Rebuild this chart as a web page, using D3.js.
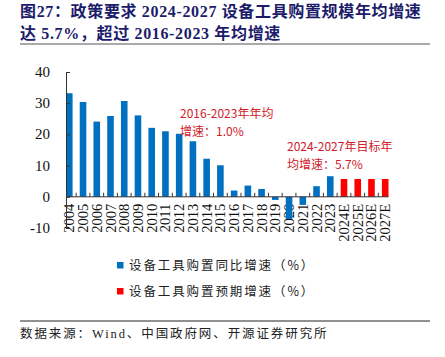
<!DOCTYPE html>
<html><head><meta charset="utf-8">
<script src="https://cdn.jsdelivr.net/npm/d3@7"></script>
<style>body{margin:0;background:#fff}svg{display:block}</style>
</head><body><svg id="c" width="445" height="357"></svg>
<script>
const categories = ["2004","2005","2006","2007","2008","2009","2010","2011","2012","2013","2014","2015","2016","2017","2018","2019","2020","2021","2022","2023","2024E","2025E","2026E","2027E"];
const actualGrowth = [33.2,30.4,24.1,25.9,30.7,26.1,22.1,21.0,20.2,17.8,12.2,10.1,2.0,3.6,2.5,-1.0,-7.1,-2.6,3.4,6.6,null,null,null,null];
const expectedGrowth = [null,null,null,null,null,null,null,null,null,null,null,null,null,null,null,null,null,null,null,null,5.7,5.7,5.7,5.7];
const yTicks = [-10,0,10,20,30,40];
const titleLines = ["图27：政策要求 2024-2027 设备工具购置规模年均增速","达 5.7%，超过 2016-2023 年均增速"];
const legendLabels = ["设备工具购置同比增速（%）","设备工具购置预期增速（%）"];
const note1 = ["2016-2023年年均","增速：1.0%"];
const note2 = ["2024-2027年目标年","均增速：5.7%"];
const source = "数据来源：Wind、中国政府网、开源证券研究所";

const svg = d3.select("#c");
const blue = "#0070c0", red = "#ff0000", noteRed = "#d0202a";
const x = d3.scaleBand().domain(categories).range([66, 388.5]).paddingInner(0.52).paddingOuter(0);
const y = d3.scaleLinear().domain([-10, 40]).range([228, 72]);

// title
svg.selectAll("text.title").data(titleLines).join("text")
  .attr("x", 20).attr("y", (d,i)=>17+i*22)
  .attr("fill", "#1c1c6b").attr("font-weight", "bold")
  .attr("font-family", "'Liberation Serif','Noto Sans CJK SC',serif")
  .attr("font-size", 16).attr("letter-spacing", 0.65)
  .text(d=>d);
svg.append("line").attr("x1",20).attr("x2",430).attr("y1",44).attr("y2",44).attr("stroke","#8c8c8c").attr("stroke-width",1.5);

// x labels (drawn under bars)
svg.selectAll("text.xl").data(categories).join("text")
  .attr("transform", d=>`translate(${x(d)+x.bandwidth()/2+5},${y(0)+7}) rotate(-90)`)
  .attr("text-anchor","end")
  .attr("font-family","'Liberation Serif',serif").attr("font-size",14.5).attr("fill","#111")
  .text(d=>d);

// bars
const g = svg.append("g");
g.selectAll("rect.a").data(categories.map((c,i)=>({c, v: actualGrowth[i]})).filter(d=>d.v!=null)).join("rect")
  .attr("x", d=>x(d.c)).attr("width", x.bandwidth())
  .attr("y", d=>y(Math.max(0,d.v))).attr("height", d=>Math.abs(y(d.v)-y(0)))
  .attr("fill", blue);
g.selectAll("rect.b").data(categories.map((c,i)=>({c, v: expectedGrowth[i]})).filter(d=>d.v!=null)).join("rect")
  .attr("x", d=>x(d.c)).attr("width", x.bandwidth())
  .attr("y", d=>y(Math.max(0,d.v))).attr("height", d=>Math.abs(y(d.v)-y(0)))
  .attr("fill", red);

// y axis
const ya = svg.append("g").attr("transform","translate(66,0)")
  .call(d3.axisRight(y).tickValues(yTicks).tickSize(4).tickFormat(""));
ya.select(".domain").attr("stroke","#333");
ya.selectAll(".tick line").attr("stroke","#333");
svg.selectAll("text.yl").data(yTicks).join("text")
  .attr("x", 50).attr("y", d=>y(d)+5).attr("text-anchor","end")
  .attr("font-family","'Liberation Serif',serif").attr("font-size",15).attr("fill","#111")
  .text(d=>d);

// x axis line and ticks at band boundaries
svg.append("line").attr("x1",66).attr("x2",388.5).attr("y1",y(0)).attr("y2",y(0)).attr("stroke","#333");
const step = x.step();
svg.selectAll("line.xt").data(categories.slice(1)).join("line")
  .attr("x1", d=>x(d) - (step - x.bandwidth())/2).attr("x2", d=>x(d) - (step - x.bandwidth())/2)
  .attr("y1", y(0)).attr("y2", y(0)-4).attr("stroke","#333");

// annotations
svg.selectAll("text.n1").data(note1).join("text")
  .attr("x",180).attr("y",(d,i)=>118+i*18).attr("fill",noteRed)
  .attr("font-family","'Noto Sans CJK SC',sans-serif").attr("font-size",12)
  .text(d=>d);
svg.selectAll("text.n2").data(note2).join("text")
  .attr("x",287).attr("y",(d,i)=>151+i*18).attr("fill",noteRed)
  .attr("font-family","'Noto Sans CJK SC',sans-serif").attr("font-size",12)
  .text(d=>d);

// legend
const leg = svg.selectAll("g.leg").data(legendLabels).join("g")
  .attr("transform",(d,i)=>`translate(117,${262+i*26})`);
leg.append("rect").attr("width",6.5).attr("height",6.5).attr("fill",(d,i)=>i?red:blue);
leg.append("text").attr("x",12).attr("y",8).attr("font-family","'Noto Sans CJK SC',serif")
  .attr("font-size",12.5).attr("letter-spacing",1.9).attr("fill","#222").text(d=>d);

// footer
svg.append("line").attr("x1",20).attr("x2",430).attr("y1",321).attr("y2",321).attr("stroke","#222").attr("stroke-width",1);
svg.append("text").attr("x",20).attr("y",338).attr("font-family","'Liberation Serif','Noto Sans CJK SC',serif")
  .attr("font-size",12.5).attr("letter-spacing",1.9).attr("fill","#222").text(source);
</script></body></html>
